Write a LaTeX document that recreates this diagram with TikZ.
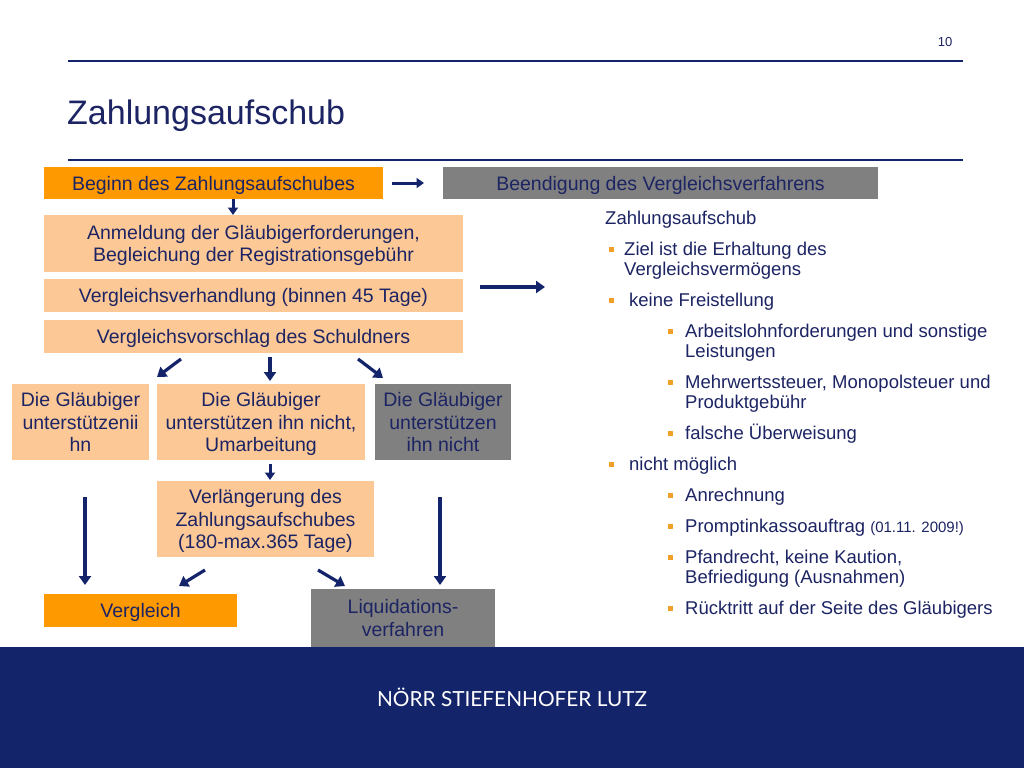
\documentclass[tikz,border=0pt]{standalone}
\usepackage{fontspec}
\setmainfont{Liberation Sans}
\newfontfamily\footfont{Lato}
\usetikzlibrary{arrows.meta}
\definecolor{navy}{RGB}{20,36,107}
\definecolor{txt}{RGB}{28,36,99}
\definecolor{orng}{RGB}{255,153,0}
\definecolor{lorng}{RGB}{252,200,150}
\definecolor{gry}{RGB}{128,128,128}
\definecolor{bul}{RGB}{240,160,40}
\begin{document}
\begin{tikzpicture}[x=1pt,y=-1pt,
  box/.style={inner sep=0pt, align=center, text=txt, text depth=0pt, font=\fontsize{19.5}{22.5}\selectfont},
  obox/.style={box, fill=orng},
  lbox/.style={box, fill=lorng},
  gbox/.style={box, fill=gry},
  arr/.style={draw=navy, line width=3.2pt, -{Triangle[length=9pt,width=12pt]}},
  sarr/.style={draw=navy, line width=3pt, -{Triangle[length=7.5pt,width=10pt]}},
  item/.style={anchor=base west, inner sep=0pt, text=txt, font=\fontsize{18.5}{20}\selectfont},
  bullet/.style={fill=bul, minimum size=5pt, inner sep=0pt}
]
\useasboundingbox (0,0) rectangle (1024,768);
\fill[white] (0,0) rectangle (1024,768);

% header
\node[anchor=center, text=txt, font=\fontsize{13}{15}\selectfont, inner sep=0pt] (pg) at (945,42) {10};
\draw[navy, line width=1.8pt] (68,61) -- (963,61);
\node[anchor=base west, inner sep=0pt, text=txt, font=\fontsize{34}{38}\selectfont] (title) at (67,124) {Zahlungsaufschub};
\draw[navy, line width=1.8pt] (68,160) -- (963,160);

% boxes
\node[obox, minimum width=339pt, minimum height=32pt] (beg) at (213.5,183) {Beginn des Zahlungsaufschubes};
\node[gbox, minimum width=435pt, minimum height=32pt] (end) at (660.5,183) {Beendigung des Vergleichsverfahrens};
\node[lbox, minimum width=419pt, minimum height=57pt] (anm) at (253.5,243.5) {Anmeldung der Gläubigerforderungen,\\Begleichung der Registrationsgebühr};
\node[lbox, minimum width=419pt, minimum height=33pt] (verh) at (253.5,295.5) {Vergleichsverhandlung (binnen 45 Tage)};
\node[lbox, minimum width=419pt, minimum height=33pt] (vors) at (253.5,336.5) {Vergleichsvorschlag des Schuldners};
\node[lbox, minimum width=137pt, minimum height=76pt] (g1) at (80.5,422) {Die Gläubiger\\unterstützenii\\hn};
\node[lbox, minimum width=208pt, minimum height=76pt] (g2) at (261,422) {Die Gläubiger\\unterstützen ihn nicht,\\Umarbeitung};
\node[gbox, minimum width=136pt, minimum height=76pt] (g3) at (443,422) {Die Gläubiger\\unterstützen\\ihn nicht};
\node[lbox, minimum width=217pt, minimum height=76pt] (verl) at (265.5,519) {Verlängerung des\\Zahlungsaufschubes\\(180-max.365 Tage)};
\node[obox, minimum width=193pt, minimum height=33pt] (vgl) at (140.5,610.5) {Vergleich};
\node[gbox, minimum width=184pt, minimum height=58pt] (liq) at (403,618) {Liquidations-\\verfahren};

% connector end points
\coordinate (a1s) at (392,183); \coordinate (a1e) at (424,183);
\coordinate (a2s) at (233,199); \coordinate (a2e) at (233,215);
\coordinate (a3s) at (480,287); \coordinate (a3e) at (545,287);
\coordinate (a4s) at (181,359); \coordinate (a4e) at (157,377);
\coordinate (a5s) at (270,357); \coordinate (a5e) at (270,381);
\coordinate (a6s) at (358,359); \coordinate (a6e) at (383,378);
\coordinate (a7s) at (270,464); \coordinate (a7e) at (270,480);
\coordinate (a8s) at (85,497);  \coordinate (a8e) at (85,585);
\coordinate (a9s) at (440,497); \coordinate (a9e) at (440,585);
\coordinate (a10s) at (205,570); \coordinate (a10e) at (179,586);
\coordinate (a11s) at (318,570); \coordinate (a11e) at (345,586);

\draw[sarr] (a1s) -- (a1e);
\draw[sarr] (a2s) -- (a2e);
\draw[arr] (a3s) -- (a3e);
\draw[arr] (a4s) -- (a4e);
\draw[arr] (a5s) -- (a5e);
\draw[arr] (a6s) -- (a6e);
\draw[sarr] (a7s) -- (a7e);
\draw[arr] (a8s) -- (a8e);
\draw[arr] (a9s) -- (a9e);
\draw[arr] (a10s) -- (a10e);
\draw[arr] (a11s) -- (a11e);

% right list
\node[item] (r0) at (605,224.5) {Zahlungsaufschub};
\node[bullet] (b1) at (611,249) {};
\node[item] (r1a) at (624,255.5) {Ziel ist die Erhaltung des};
\node[item] (r1b) at (624,275.5) {Vergleichsvermögens};
\node[bullet] (b2) at (611,300) {};
\node[item] (r2) at (629,306.5) {keine Freistellung};
\node[bullet] (b3) at (670,331) {};
\node[item] (r3a) at (685,337.5) {Arbeitslohnforderungen und sonstige};
\node[item] (r3b) at (685,357.5) {Leistungen};
\node[bullet] (b4) at (670,382) {};
\node[item] (r4a) at (685,388.5) {Mehrwertssteuer, Monopolsteuer und};
\node[item] (r4b) at (685,408.5) {Produktgebühr};
\node[bullet] (b5) at (670,433) {};
\node[item] (r5) at (685,439.5) {falsche Überweisung};
\node[bullet] (b6) at (611,464) {};
\node[item] (r6) at (629,470.5) {nicht möglich};
\node[bullet] (b7) at (670,495) {};
\node[item] (r7) at (685,501.5) {Anrechnung};
\node[bullet] (b8) at (670,526) {};
\node[item] (r8) at (685,532.5) {Promptinkassoauftrag {\fontsize{15}{18}\selectfont(01.11. 2009!)}};
\node[bullet] (b9) at (670,557) {};
\node[item] (r9a) at (685,563.5) {Pfandrecht, keine Kaution,};
\node[item] (r9b) at (685,583.5) {Befriedigung (Ausnahmen)};
\node[bullet] (b10) at (670,608) {};
\node[item] (r10) at (685,614.5) {Rücktritt auf der Seite des Gläubigers};

% footer
\fill[navy] (0,647) rectangle (1024,768);
\node[text=white, inner sep=0pt, font=\footfont\fontsize{20.8}{24}\selectfont] (foot) at (512,697) {NÖRR STIEFENHOFER LUTZ};
\end{tikzpicture}
\end{document}
